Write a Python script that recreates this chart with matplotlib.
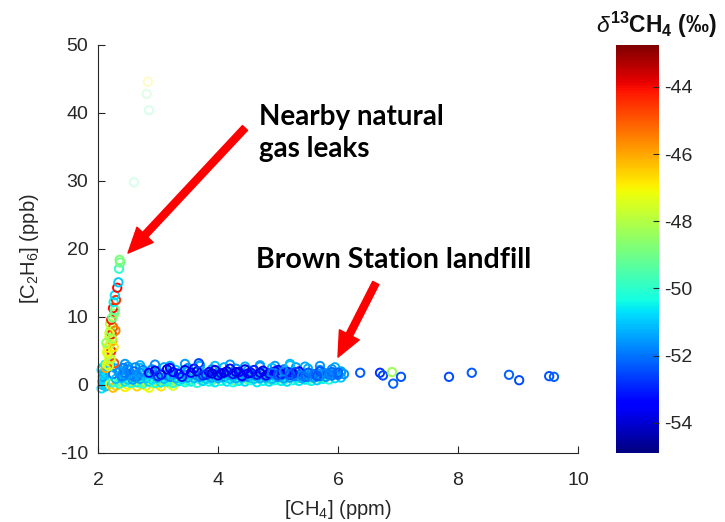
import matplotlib
matplotlib.use("Agg")
import matplotlib.pyplot as plt
import matplotlib.colors as mcolors
import matplotlib.cm as cm

# ---- data: [CH4] (ppm), [C2H6] (ppb), d13CH4 (permil) ----

# vertical spike near 2.2 ppm (natural gas leaks)
spike_ch4 = [2.13, 2.15, 2.18, 2.2, 2.17, 2.22, 2.16, 2.2, 2.24, 2.19, 2.23, 2.21, 2.25, 2.2,
             2.22, 2.24, 2.27, 2.25, 2.28, 2.26, 2.3, 2.28, 2.32, 2.34, 2.35, 2.37, 2.36, 2.27,
             2.14, 2.29, 2.18, 2.21, 2.15, 2.26, 2.19, 2.23]
spike_c2h6 = [2.5, 3.0, 3.5, 4.0, 4.5, 5.0, 5.5, 6.0, 6.5, 7.0, 7.5, 8.0, 8.5, 9.0,
              9.6, 9.9, 10.5, 11.3, 11.0, 12.2, 12.5, 13.2, 14.3, 15.1, 17.1, 18.0, 18.4, 3.2,
              6.2, 8.0, 2.8, 3.8, 4.8, 5.6, 7.6, 6.8]
spike_d13c = [-46.0, -47.5, -47.2, -46.5, -47.8, -44.5, -47.0, -48.0, -46.0, -47.3, -44.0, -48.5, -45.0, -47.8,
              -44.2, -49.0, -48.5, -44.0, -49.2, -50.5, -44.5, -50.8, -44.0, -51.0, -50.0, -49.0, -48.8, -44.8,
              -48.5, -45.5, -47.6, -47.9, -47.4, -46.8, -47.7, -48.2]

# faint high points
faint_ch4 = [2.83, 2.81, 2.6, 2.85]
faint_c2h6 = [44.6, 42.8, 29.8, 40.4]
faint_d13c = [-47.0, -49.0, -49.5, -49.5]

# left column at background CH4
col_ch4 = [2.06, 2.08, 2.07, 2.1, 2.09, 2.11, 2.07, 2.12, 2.1, 2.08, 2.06, 2.13, 2.09, 2.11]
col_c2h6 = [-0.5, 0.0, 0.5, 1.0, 1.5, 2.0, 2.5, 3.0, 0.3, 1.2, 2.2, -0.2, 0.8, 1.7]
col_d13c = [-50.7, -51.0, -50.5, -51.2, -50.8, -50.6, -51.1, -50.4, -50.9, -51.4, -50.7, -51.0, -50.8, -51.1]

# bottom edge of the landfill band
low_ch4 = [2.2, 2.3, 2.4, 2.5, 2.6, 2.7, 2.8, 2.9, 3.0, 3.1, 3.2, 3.3, 3.4, 2.35, 2.55, 2.75,
           2.95, 3.15, 3.35, 3.5, 3.7, 3.9, 4.1, 4.3, 4.5, 4.7, 4.9, 5.1, 5.3, 5.5, 5.7,
           2.25, 2.45, 2.65, 2.85, 3.05, 3.25]
low_c2h6 = [0.1, -0.1, 0.3, 0.0, 0.4, 0.2, -0.1, 0.3, 0.1, 0.5, 0.2, 0.4, 0.6, 0.6, 0.5, 0.5,
            0.7, 0.7, 0.8, 0.6, 0.8, 0.7, 0.9, 0.6, 0.8, 0.9, 0.7, 0.8, 0.9, 0.8, 1.0,
            -0.4, -0.3, -0.2, -0.4, -0.2, -0.1]
low_d13c = [-47.5, -46.5, -48.0, -47.0, -48.5, -47.8, -46.8, -48.2, -47.5, -48.8, -48.0, -48.5, -49.0, -49.0, -48.5, -49.2,
            -48.8, -49.5, -49.0, -49.3, -49.5, -49.2, -49.6, -49.0, -49.4, -49.7, -49.2, -49.5, -49.8, -49.3, -49.6,
            -46.3, -47.0, -46.6, -47.2, -46.8, -47.4]

# extra fill rows of the band (cyan near 0.4 ppb, light blue near 1.6 ppb, upper edge near 3 ppb)
fill_ch4 = [2.25, 2.35, 2.45, 2.55, 2.65, 2.75, 2.85, 2.95, 3.05, 3.15, 3.25, 3.35, 3.45, 3.55, 3.65, 3.75,
            3.85, 3.95, 4.05, 4.15, 4.25, 4.35, 4.45, 4.55, 4.65, 4.75, 4.85, 4.95, 5.05, 5.15, 5.25, 5.35,
            5.45, 5.55, 5.65, 5.75, 5.85, 5.95, 6.05,
            2.25, 2.35, 2.45, 2.55, 2.65, 2.75, 2.85, 2.95, 3.05, 3.15, 3.25, 3.35, 3.45, 3.55, 3.65, 3.75,
            3.85, 3.95, 4.05, 4.15, 4.25, 4.35, 4.45, 4.55, 4.65, 4.75, 4.85, 4.95, 5.05, 5.15, 5.25, 5.35,
            5.45, 5.55, 5.65, 5.75, 5.85, 5.95, 6.05,
            2.2, 2.45, 2.7, 2.95, 3.2, 3.45, 3.7, 3.95, 4.2, 4.45, 4.7, 4.95, 5.2, 5.45, 5.7, 5.95]
fill_c2h6 = [0.4, 0.2, 0.5, 0.3, 0.4, 0.2, 0.5, 0.3, 0.4, 0.5, 0.3, 0.6, 0.4, 0.5, 0.3, 0.6,
             0.5, 0.4, 0.6, 0.5, 0.4, 0.6, 0.5, 0.7, 0.4, 0.6, 0.5, 0.7, 0.6, 0.5, 0.7, 0.6,
             0.8, 0.6, 0.7, 0.9, 0.8, 1.0, 1.1,
             1.6, 1.9, 1.4, 1.7, 1.5, 1.8, 1.6, 1.5, 1.7, 1.4, 1.6, 1.8, 1.5, 1.7, 1.4, 1.6,
             1.5, 1.4, 1.6, 1.5, 1.3, 1.6, 1.4, 1.5, 1.3, 1.6, 1.4, 1.5, 1.4, 1.6, 1.5, 1.4,
             1.6, 1.7, 1.5, 1.8, 1.6, 1.7, 1.9,
             3.0, 3.1, 2.9, 3.0, 2.8, 3.1, 2.9, 2.8, 3.0, 2.7, 2.9, 2.8, 3.1, 2.7, 2.8, 2.6]
fill_d13c = [-50.3, -50.0, -50.7, -50.1, -50.5, -49.9, -50.8, -50.2, -50.6, -50.4, -50.0, -50.7, -50.3, -50.5, -50.1, -50.9,
             -50.4, -50.6, -50.2, -50.7, -50.3, -50.5, -50.8, -50.1, -50.6, -50.4, -50.7, -50.2, -50.5, -50.8, -50.3, -50.6,
             -50.7, -50.4, -50.9, -50.5, -50.2, -50.7, -51.0,
             -51.9, -52.1, -51.8, -52.2, -52.0, -51.7, -51.5, -51.9, -51.4, -51.8, -51.6, -51.3, -51.7, -51.5, -51.8, -51.4,
             -51.6, -51.9, -51.5, -51.7, -51.4, -51.8, -51.6, -51.5, -51.9, -51.7, -51.5, -51.8, -52.0, -51.7, -52.1, -51.8,
             -52.2, -51.9, -52.1, -51.7, -52.0, -51.8, -51.9,
             -51.1, -51.5, -51.3, -51.7, -51.2, -51.5, -51.4, -51.1, -51.6, -51.3, -51.4, -51.5, -51.2, -51.4, -51.6, -51.3]

# cyan / light blue middle of the band
mid_ch4 = [2.3, 2.4, 2.5, 2.6, 2.7, 2.8, 2.9, 3.0, 3.1, 3.2, 3.3, 3.4, 3.5, 3.6, 3.7, 3.8, 3.9, 4.0, 4.1, 4.2,
           4.3, 4.4, 4.5, 4.6, 4.7, 4.8, 4.9, 5.0, 5.1, 5.2, 5.3, 5.4, 5.5, 5.6, 5.7, 5.8, 5.9, 6.0, 6.1,
           2.3, 2.5, 2.7, 2.9, 3.1, 3.3, 3.5, 3.7, 3.9, 4.1, 4.3, 4.5, 4.7, 4.9, 5.1, 5.3, 5.5, 5.7, 5.9, 6.05,
           2.4, 2.45, 2.5, 2.55, 2.6, 2.65, 2.7, 2.42, 2.62, 2.75, 2.35, 2.58, 5.2]
mid_c2h6 = [0.9, 1.1, 0.8, 1.2, 0.9, 1.0, 0.8, 1.1, 0.9, 1.2, 1.0, 0.9, 1.1, 1.0, 1.2, 0.9, 1.1, 1.0, 1.2, 0.9,
            1.0, 1.1, 1.2, 0.9, 1.0, 1.1, 0.9, 1.2, 1.0, 1.1, 1.3, 1.0, 1.2, 1.1, 1.3, 1.2, 1.4, 1.5, 1.6,
            2.4, 2.7, 2.5, 2.3, 2.6, 2.2, 2.5, 2.8, 2.3, 2.6, 2.4, 2.2, 2.7, 2.5, 2.3, 2.6, 2.4, 2.2, 2.3, 2.0,
            1.3, 1.8, 2.3, 1.5, 2.0, 1.2, 1.8, 2.5, 2.6, 2.2, 1.9, 0.8, 2.9]
mid_d13c = [-51.1, -51.5, -50.9, -51.7, -51.3, -51.0, -50.7, -51.5, -51.1, -51.8, -51.2, -50.9, -51.5, -51.1, -51.7, -51.0,
            -51.4, -51.2, -51.6, -50.9, -51.3, -51.5, -51.7, -51.0, -51.3, -51.5, -51.1, -51.8, -51.4, -51.6, -51.9, -51.3,
            -51.7, -51.5, -51.9, -51.6, -52.0, -52.1, -51.7,
            -51.3, -51.5, -51.1, -51.7, -51.4, -51.0, -51.6, -51.3, -51.5, -51.2, -51.7, -51.4, -51.6, -51.1, -51.8,
            -51.5, -51.3, -51.7, -51.6, -51.4,
            -51.8, -52.0, -51.7, -51.9, -52.1, -51.8, -51.6, -51.9, -51.7, -51.8, -51.6, -51.5, -51.0]

# dark blue points in the band
deep_ch4 = [2.85, 2.95, 3.05, 3.15, 3.25, 3.35, 3.45, 3.55, 3.65, 3.75, 3.85, 3.95, 4.05, 4.15, 4.25, 4.35,
            4.45, 4.55, 4.65, 4.75, 4.85, 4.95, 5.05, 5.15, 5.25, 5.35,
            3.0, 3.2, 3.4, 3.6, 3.8, 4.0, 4.2, 4.4, 4.6, 4.8, 5.0, 5.2,
            3.9, 4.1, 4.3, 4.5, 4.7, 3.68]
deep_c2h6 = [1.8, 2.1, 1.5, 2.3, 1.9, 1.6, 2.2, 1.8, 2.0, 1.4, 1.9, 2.2, 1.7, 2.0, 1.6, 1.9,
             2.3, 1.8, 1.5, 2.1, 1.7, 2.0, 1.6, 1.9, 1.7, 2.0,
             1.3, 2.5, 1.2, 2.4, 1.5, 1.4, 2.4, 1.3, 2.2, 1.4, 2.2, 1.5,
             1.7, 1.8, 1.9, 1.7, 1.8, 3.2]
deep_d13c = [-53.3, -53.8, -53.1, -53.9, -53.5, -53.2, -53.7, -53.3, -54.0, -52.9, -53.6, -53.8, -53.3, -53.9, -53.1, -53.5,
             -53.8, -53.4, -53.0, -53.7, -53.3, -53.6, -53.1, -53.4, -52.9, -53.3,
             -52.8, -53.3, -53.1, -53.5, -52.9, -53.7, -53.2, -53.4, -53.0, -53.5, -53.2, -52.8,
             -53.9, -53.8, -53.9, -53.7, -53.8, -52.6]

# lighter blue at the high-CH4 end of the band
blue_ch4 = [4.9, 5.0, 5.1, 5.2, 5.3, 5.4, 5.5, 5.6, 5.7, 5.8, 5.9, 6.0, 5.45, 5.65, 5.85]
blue_c2h6 = [1.8, 1.5, 2.0, 1.6, 1.9, 1.4, 1.8, 1.6, 2.0, 1.7, 1.9, 1.8, 1.2, 1.3, 1.5]
blue_d13c = [-52.0, -52.5, -51.8, -52.2, -52.6, -51.9, -52.3, -52.0, -52.4, -51.8, -52.1, -52.2, -52.0, -52.3, -51.9]

# isolated high-CH4 points
out_ch4 = [6.37, 6.7, 6.75, 6.9, 6.92, 7.05, 7.85, 8.23, 8.85, 9.02, 9.52, 9.6]
out_c2h6 = [1.8, 1.8, 1.4, 1.9, 0.2, 1.2, 1.2, 1.8, 1.5, 0.7, 1.3, 1.2]
out_d13c = [-52.3, -52.8, -52.5, -48.3, -52.2, -52.4, -52.5, -52.3, -52.2, -52.5, -52.4, -52.2]

x_ticks = [2, 4, 6, 8, 10]
y_ticks = [-10, 0, 10, 20, 30, 40, 50]
cb_ticks = [-54, -52, -50, -48, -46, -44]
d_min, d_max = -54.9, -42.75

plt.rcParams['font.family'] = ['Liberation Sans', 'DejaVu Sans']
plt.rcParams['axes.unicode_minus'] = False
plt.rcParams['mathtext.fontset'] = 'custom'
plt.rcParams['mathtext.rm'] = 'Liberation Sans'
plt.rcParams['mathtext.it'] = 'Liberation Sans:italic'
plt.rcParams['mathtext.bf'] = 'Liberation Sans:bold'

cmap = plt.get_cmap('jet')
norm = mcolors.Normalize(vmin=d_min, vmax=d_max)

fig = plt.figure(figsize=(7.25, 5.22), dpi=100)
ax = fig.add_axes([0.1352, 0.1322, 0.662, 0.7816])
cax = fig.add_axes([0.8497, 0.1322, 0.0593, 0.7816])

groups = [
    (col_ch4, col_c2h6, col_d13c, 1.0),
    (low_ch4, low_c2h6, low_d13c, 1.0),
    (fill_ch4, fill_c2h6, fill_d13c, 1.0),
    (mid_ch4, mid_c2h6, mid_d13c, 1.0),
    (spike_ch4, spike_c2h6, spike_d13c, 1.0),
    (deep_ch4, deep_c2h6, deep_d13c, 1.0),
    (blue_ch4, blue_c2h6, blue_d13c, 1.0),
    (out_ch4, out_c2h6, out_d13c, 1.0),
    (faint_ch4, faint_c2h6, faint_d13c, 0.22),
]
for gx, gy, gd, a in groups:
    edge = cmap(norm(gd))
    edge[:, 3] = a
    ax.scatter(gx, gy, s=36, marker='o', facecolors='none', edgecolors=edge,
               linewidths=1.4, clip_on=False)

ax.set_xlim(2, 10)
ax.set_ylim(-10, 50)
ax.set_xticks(x_ticks)
ax.set_yticks(y_ticks)
ax.tick_params(direction='in', length=5, width=0.8, color='#262626', labelsize=14,
               labelcolor='#262626', pad=7)
ax.tick_params(axis='x', pad=14)
for side in ['top', 'right']:
    ax.spines[side].set_visible(False)
for side in ['left', 'bottom']:
    ax.spines[side].set_color('#262626')
    ax.spines[side].set_linewidth(0.8)
ax.set_xlabel('[CH$_4$] (ppm)', fontsize=14.5, color='#262626', labelpad=6)
ax.set_ylabel('[C$_2$H$_6$] (ppb)', fontsize=14.5, color='#262626', labelpad=14)

sm = cm.ScalarMappable(norm=norm, cmap=cmap)
cb = fig.colorbar(sm, cax=cax, ticks=cb_ticks)
cb.outline.set_visible(False)
cax.tick_params(direction='in', length=4, width=0.8, color='#262626', labelsize=14,
                labelcolor='#262626', pad=4)
fig.text(0.905, 0.952, r'$\mathit{\delta}^{\mathbf{13}}\mathbf{CH_4}$ (‰)', ha='center', va='center',
         fontsize=16.5, fontweight='bold', color='#111111')

# annotations
ax.text(4.68, 41.3, 'Nearby natural\ngas leaks', fontsize=20, fontweight='bold', family='Lato',
        va='top', ha='left', linespacing=1.3)
ax.text(4.63, 20.3, 'Brown Station landfill', fontsize=20.5, fontweight='bold', family='Lato',
        va='top', ha='left')
arrow = dict(arrowstyle='simple,head_length=0.9,head_width=0.8,tail_width=0.25',
             color='#ff0000', mutation_scale=20, shrinkA=0, shrinkB=0)
ax.annotate('', xy=(2.5, 19.4), xytext=(4.45, 37.8), arrowprops=arrow)
ax.annotate('', xy=(6.0, 4.1), xytext=(6.63, 15.0), arrowprops=arrow)

fig.savefig('out.png', dpi=100)
